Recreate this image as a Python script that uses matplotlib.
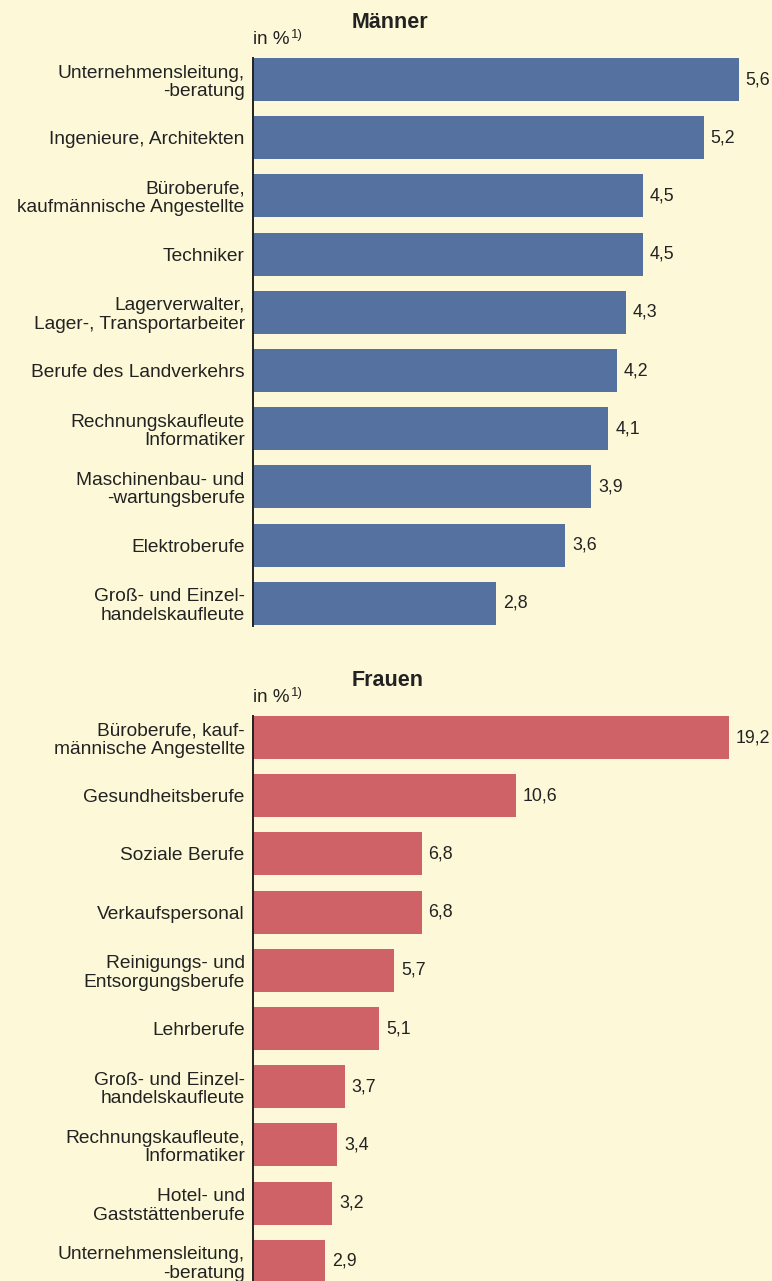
import matplotlib.pyplot as plt

plt.rcParams['font.family'] = ['Liberation Sans', 'DejaVu Sans']

BG = "#FDF9D8"
BLUE = "#55719F"
RED = "#CF6266"
TXT = "#222222"

men_labels = [
    "Unternehmensleitung,\n-beratung",
    "Ingenieure, Architekten",
    "Büroberufe,\nkaufmännische Angestellte",
    "Techniker",
    "Lagerverwalter,\nLager-, Transportarbeiter",
    "Berufe des Landverkehrs",
    "Rechnungskaufleute\nInformatiker",
    "Maschinenbau- und\n-wartungsberufe",
    "Elektroberufe",
    "Groß- und Einzel-\nhandelskaufleute",
]
men_values = [5.6, 5.2, 4.5, 4.5, 4.3, 4.2, 4.1, 3.9, 3.6, 2.8]

women_labels = [
    "Büroberufe, kauf-\nmännische Angestellte",
    "Gesundheitsberufe",
    "Soziale Berufe",
    "Verkaufspersonal",
    "Reinigungs- und\nEntsorgungsberufe",
    "Lehrberufe",
    "Groß- und Einzel-\nhandelskaufleute",
    "Rechnungskaufleute,\nInformatiker",
    "Hotel- und\nGaststättenberufe",
    "Unternehmensleitung,\n-beratung",
]
women_values = [19.2, 10.6, 6.8, 6.8, 5.7, 5.1, 3.7, 3.4, 3.2, 2.9]

W, H = 772, 1281
fig = plt.figure(figsize=(W / 100, H / 100), dpi=100, facecolor=BG)


def panel(top_px, bottom_px, xmax, labels, values, color, title, title_y):
    ax = fig.add_axes([253 / W, 1 - bottom_px / H, 519 / W, (bottom_px - top_px) / H])
    ax.set_facecolor(BG)
    ypos = list(range(len(values)))
    ax.barh(ypos, values, height=0.74, color=color)
    spacing = 58.2
    ax.set_ylim(-0.37 + (bottom_px - top_px) / spacing, -0.37)
    ax.set_xlim(0, xmax)
    ax.set_yticks(ypos)
    ax.set_yticklabels(labels, fontsize=13.8, color=TXT, linespacing=1.12)
    ax.tick_params(axis='y', length=0, pad=6)
    ax.set_xticks([])
    for s in ["top", "right", "bottom"]:
        ax.spines[s].set_visible(False)
    ax.spines["left"].set_linewidth(1.4)
    ax.spines["left"].set_color(TXT)
    for y, v in zip(ypos, values):
        ax.annotate(f"{v:.1f}".replace(".", ","), (v, y), xytext=(5, 0),
                    textcoords="offset points", va="center", ha="left",
                    fontsize=12.8, color=TXT, annotation_clip=False)
    fig.text(352 / W, 1 - title_y / H, title, ha="left", va="center",
             fontsize=15.5, fontweight="bold", color=TXT)
    fig.text(253 / W, 1 - (title_y + 16) / H, "in %", ha="left", va="center",
             fontsize=13.5, color=TXT)
    fig.text(291 / W, 1 - (title_y + 12) / H, "1)", ha="left", va="center",
             fontsize=9.5, color=TXT)
    return ax


panel(58, 626, 519 / 86.7, men_labels, men_values, BLUE, "Männer", 23)
panel(716, 1281, 519 / 24.8, women_labels, women_values, RED, "Frauen", 681)

fig.savefig("out.png", dpi=100, facecolor=BG)
